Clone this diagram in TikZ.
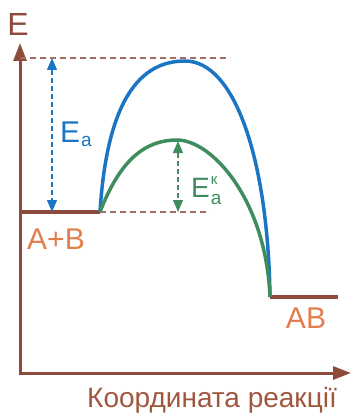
\documentclass[tikz,border=0pt]{standalone}
\usepackage{fontspec}
\setmainfont{Liberation Sans}
\usetikzlibrary{arrows.meta}
\definecolor{enbrown}{HTML}{8E4B3B}
\definecolor{enorange}{HTML}{E27E4E}
\definecolor{entext}{HTML}{A0573F}
\definecolor{enblue}{HTML}{1B75C2}
\definecolor{engreen}{HTML}{3F8D5F}
\newcommand{\subsz}{\fontsize{19}{19}\selectfont}

\begin{document}
\begin{tikzpicture}[x=1pt, y=-1pt,
  axis/.style={line width=3pt, enbrown, {Triangle[length=18pt,width=13pt]}-{Triangle[length=18pt,width=13pt]}},
  level/.style={line width=3.5pt, enbrown},
  guide/.style={line width=1.1pt, enbrown!80, dash pattern=on 6pt off 4pt},
  gap/.style={line width=1.3pt, dash pattern=on 5pt off 3pt, {Triangle[length=12pt,width=10pt]}-{Triangle[length=12pt,width=10pt]}},
  path/.style={line width=3.5pt},
  lbl/.style={inner sep=0pt, font=\fontsize{30}{32}\selectfont}]
  \useasboundingbox (0,0) rectangle (352,417);

  % axes
  \coordinate (ytop) at (20,43);
  \coordinate (xend) at (351,373);
  \draw[axis] (ytop) |- (xend);
  \node[lbl, enbrown, font=\fontsize{32}{34}\selectfont] (elab) at (18,24) {E};
  \node[lbl, entext, font=\fontsize{28}{30}\selectfont] (xlab) at (212,400) {Координата реакції};

  % energy levels
  \coordinate (rs) at (20,212);
  \coordinate (r) at (100,212);
  \coordinate (p) at (270,297);
  \coordinate (pe) at (338,297);
  \coordinate (ts) at (185,61);
  \coordinate (tc) at (177,140);
  \draw[level] (rs) -- (r);
  \draw[level] (p) -- (pe);
  \node[lbl, enorange] (ab0) at (56,239) {A+B};
  \node[lbl, enorange] (ab1) at (306,318) {AB};

  % guides
  \coordinate (g1) at (20,58);
  \coordinate (g2) at (230,58);
  \coordinate (g3) at (210,212);
  \draw[guide] (g1) -- (g2);
  \draw[guide] (r) -- (g3);

  % reaction paths
  \draw[path, enblue] (r) .. controls (107,100) and (140,61) .. (ts)
    .. controls (235,61) and (268,160) .. (p);
  \draw[path, engreen] (r) .. controls (120,160) and (145,140) .. (tc)
    .. controls (212,140) and (266,200) .. (p);

  % activation energies
  \coordinate (a1) at (52,58);
  \coordinate (a2) at (52,212);
  \coordinate (b1) at (178,141);
  \coordinate (b2) at (178,212);
  \draw[gap, enblue] (a1) -- (a2);
  \draw[gap, engreen] (b1) -- (b2);
  \node[lbl, enblue, anchor=base west] (ea) at (60,142) {E\kern1pt\raisebox{-5pt}{\subsz a}};
  \node[lbl, engreen, anchor=base west, font=\fontsize{28}{30}\selectfont] (eak) at (191,197)
    {E\kern1pt\rlap{\raisebox{13pt}{\fontsize{15}{15}\selectfont к}}\raisebox{-7pt}{\subsz a}};
\end{tikzpicture}
\end{document}
